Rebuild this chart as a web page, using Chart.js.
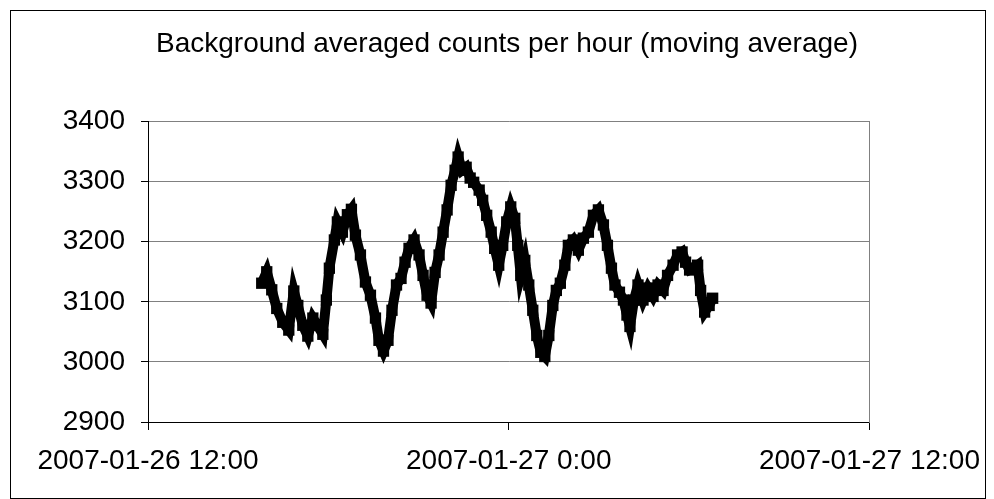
<!DOCTYPE html>
<html>
<head>
<meta charset="utf-8">
<script src="https://cdn.jsdelivr.net/npm/chart.js@4.4.0/dist/chart.umd.min.js"></script>
<style>
  html, body { margin: 0; padding: 0; background: #fff; }
  #wrap { width: 994px; height: 499px; }
</style>
</head>
<body>
<div id="wrap"><canvas id="c" width="994" height="499"></canvas></div>
<script>
const chartTitle = 'Background averaged counts per hour (moving average)';
const axisStart = '2007-01-26 12:00';
const xTickLabels = ['2007-01-26 12:00', '2007-01-27 0:00', '2007-01-27 12:00'];
const yTickValues = [2900, 3000, 3100, 3200, 3300, 3400];

const timeStamps = [
  '2007-01-26 15:47','2007-01-26 15:57','2007-01-26 16:07','2007-01-26 16:17','2007-01-26 16:29','2007-01-26 16:41','2007-01-26 16:51','2007-01-26 16:59','2007-01-26 17:09','2007-01-26 17:19',
  '2007-01-26 17:29','2007-01-26 17:38','2007-01-26 17:49','2007-01-26 17:56','2007-01-26 18:02','2007-01-26 18:12','2007-01-26 18:18','2007-01-26 18:28','2007-01-26 18:38','2007-01-26 18:46',
  '2007-01-26 18:54','2007-01-26 19:04','2007-01-26 19:14','2007-01-26 19:24','2007-01-26 19:34','2007-01-26 19:41','2007-01-26 19:50','2007-01-26 19:59','2007-01-26 20:07','2007-01-26 20:16',
  '2007-01-26 20:25','2007-01-26 20:33','2007-01-26 20:41','2007-01-26 20:51','2007-01-26 21:01','2007-01-26 21:09','2007-01-26 21:17','2007-01-26 21:25','2007-01-26 21:33','2007-01-26 21:41',
  '2007-01-26 21:49','2007-01-26 21:57','2007-01-26 22:05','2007-01-26 22:13','2007-01-26 22:19','2007-01-26 22:27','2007-01-26 22:35','2007-01-26 22:43','2007-01-26 22:50','2007-01-26 23:01',
  '2007-01-26 23:08','2007-01-26 23:16','2007-01-26 23:25','2007-01-26 23:32','2007-01-26 23:40','2007-01-26 23:48','2007-01-26 23:56','2007-01-27 00:04','2007-01-27 00:12','2007-01-27 00:18',
  '2007-01-27 00:24','2007-01-27 00:32','2007-01-27 00:40','2007-01-27 00:48','2007-01-27 00:56','2007-01-27 01:04','2007-01-27 01:12','2007-01-27 01:20','2007-01-27 01:28','2007-01-27 01:35',
  '2007-01-27 01:43','2007-01-27 01:52','2007-01-27 01:59','2007-01-27 02:09','2007-01-27 02:19','2007-01-27 02:29','2007-01-27 02:39','2007-01-27 02:49','2007-01-27 02:59','2007-01-27 03:09',
  '2007-01-27 03:17','2007-01-27 03:25','2007-01-27 03:32','2007-01-27 03:41','2007-01-27 03:49','2007-01-27 03:56','2007-01-27 04:02','2007-01-27 04:10','2007-01-27 04:18','2007-01-27 04:28',
  '2007-01-27 04:38','2007-01-27 04:48','2007-01-27 04:58','2007-01-27 05:08','2007-01-27 05:17','2007-01-27 05:28','2007-01-27 05:37','2007-01-27 05:46','2007-01-27 05:53','2007-01-27 06:01',
  '2007-01-27 06:09','2007-01-27 06:17','2007-01-27 06:23','2007-01-27 06:31','2007-01-27 06:40','2007-01-27 06:47'
];

const counts = [
  3131,3150,3120,3089,3066,3053,3118,3094,3061,3043,
  3073,3061,3046,3103,3156,3203,3233,3216,3245,3254,
  3211,3178,3133,3111,3073,3036,3018,3036,3086,3128,
  3139,3166,3189,3203,3178,3144,3111,3098,3149,3178,
  3216,3253,3294,3319,3341,3319,3324,3306,3299,3286,
  3269,3244,3216,3189,3161,3194,3233,3258,3239,3194,
  3144,3169,3128,3086,3044,3016,3009,3044,3094,3119,
  3131,3161,3194,3203,3186,3206,3216,3244,3253,3228,
  3194,3156,3128,3116,3103,3078,3059,3103,3128,3103,
  3123,3109,3128,3119,3144,3161,3178,3183,3166,3153,
  3156,3161,3119,3083,3094,3106
];

function toHours(s) {
  const [d, t] = s.split(' ');
  const [Y, M, D] = d.split('-').map(Number);
  const [h, m] = t.split(':').map(Number);
  return Date.UTC(Y, M - 1, D, h, m) / 3600000;
}
const h0 = toHours(axisStart);
const points = timeStamps.map((s, i) => ({ x: toHours(s) - h0, y: counts[i] }));

const FONT = "'Liberation Sans', Arial, sans-serif";

const framePlugin = {
  id: 'frame',
  beforeDraw(chart) {
    const ctx = chart.ctx;
    ctx.save();
    ctx.fillStyle = '#fff';
    ctx.fillRect(0, 0, chart.width, chart.height);
    ctx.restore();
  },
  afterDraw(chart) {
    const ctx = chart.ctx;
    ctx.save();
    ctx.strokeStyle = '#000';
    ctx.lineWidth = 1;
    ctx.strokeRect(10.5, 10.5, 975, 488);
    ctx.restore();
  }
};

new Chart(document.getElementById('c'), {
  type: 'line',
  data: {
    datasets: [{
      label: 'counts',
      data: points,
      borderColor: '#000',
      backgroundColor: '#000',
      borderWidth: 10,
      borderJoinStyle: 'miter',
      pointStyle: 'rect',
      pointRadius: 8,
      pointBorderWidth: 0,
      pointBackgroundColor: '#000',
      tension: 0,
      fill: false,
      clip: false
    }]
  },
  options: {
    responsive: false,
    animation: false,
    events: [],
    layout: { padding: { left: 20, right: 0, top: 0, bottom: 0 } },
    plugins: {
      legend: { display: false },
      tooltip: { enabled: false },
      title: {
        display: true,
        text: chartTitle,
        color: '#000',
        font: { family: FONT, size: 28, weight: 'normal' },
        padding: { top: 27, bottom: 61 }
      }
    },
    scales: {
      x: {
        type: 'linear',
        min: 0,
        max: 24,
        afterFit(s) { s.height = 77; },
        afterBuildTicks(s) { s.ticks = xTickLabels.map((_, i) => ({ value: i * 12 })); },
        ticks: {
          stepSize: 12,
          autoSkip: false,
          maxRotation: 0,
          padding: 14,
          color: '#000',
          font: { family: FONT, size: 28 },
          callback: (v) => xTickLabels[Math.round(v / 12)]
        },
        grid: { drawOnChartArea: false, drawTicks: true, tickLength: 8, tickColor: '#000', color: '#000' },
        border: { display: true, color: '#000', width: 1 }
      },
      y: {
        type: 'linear',
        position: 'left',
        min: yTickValues[0],
        max: yTickValues[yTickValues.length - 1],
        afterFit(s) { s.width = 128; },
        afterBuildTicks(s) { s.ticks = yTickValues.map(v => ({ value: v })); },
        ticks: {
          padding: 16,
          color: '#000',
          font: { family: FONT, size: 28 },
          callback: (v) => String(v)
        },
        grid: { color: '#808080', tickColor: '#000', tickLength: 7, lineWidth: 1 },
        border: { display: true, color: '#000', width: 1 }
      },
      yRight: {
        type: 'linear',
        position: 'right',
        afterFit(s) { s.width = 122; },
        ticks: { display: false },
        grid: { display: false, drawOnChartArea: false, drawTicks: false },
        border: { display: true, color: '#808080', width: 1 }
      }
    }
  },
  plugins: [framePlugin]
});
</script>
</body>
</html>
